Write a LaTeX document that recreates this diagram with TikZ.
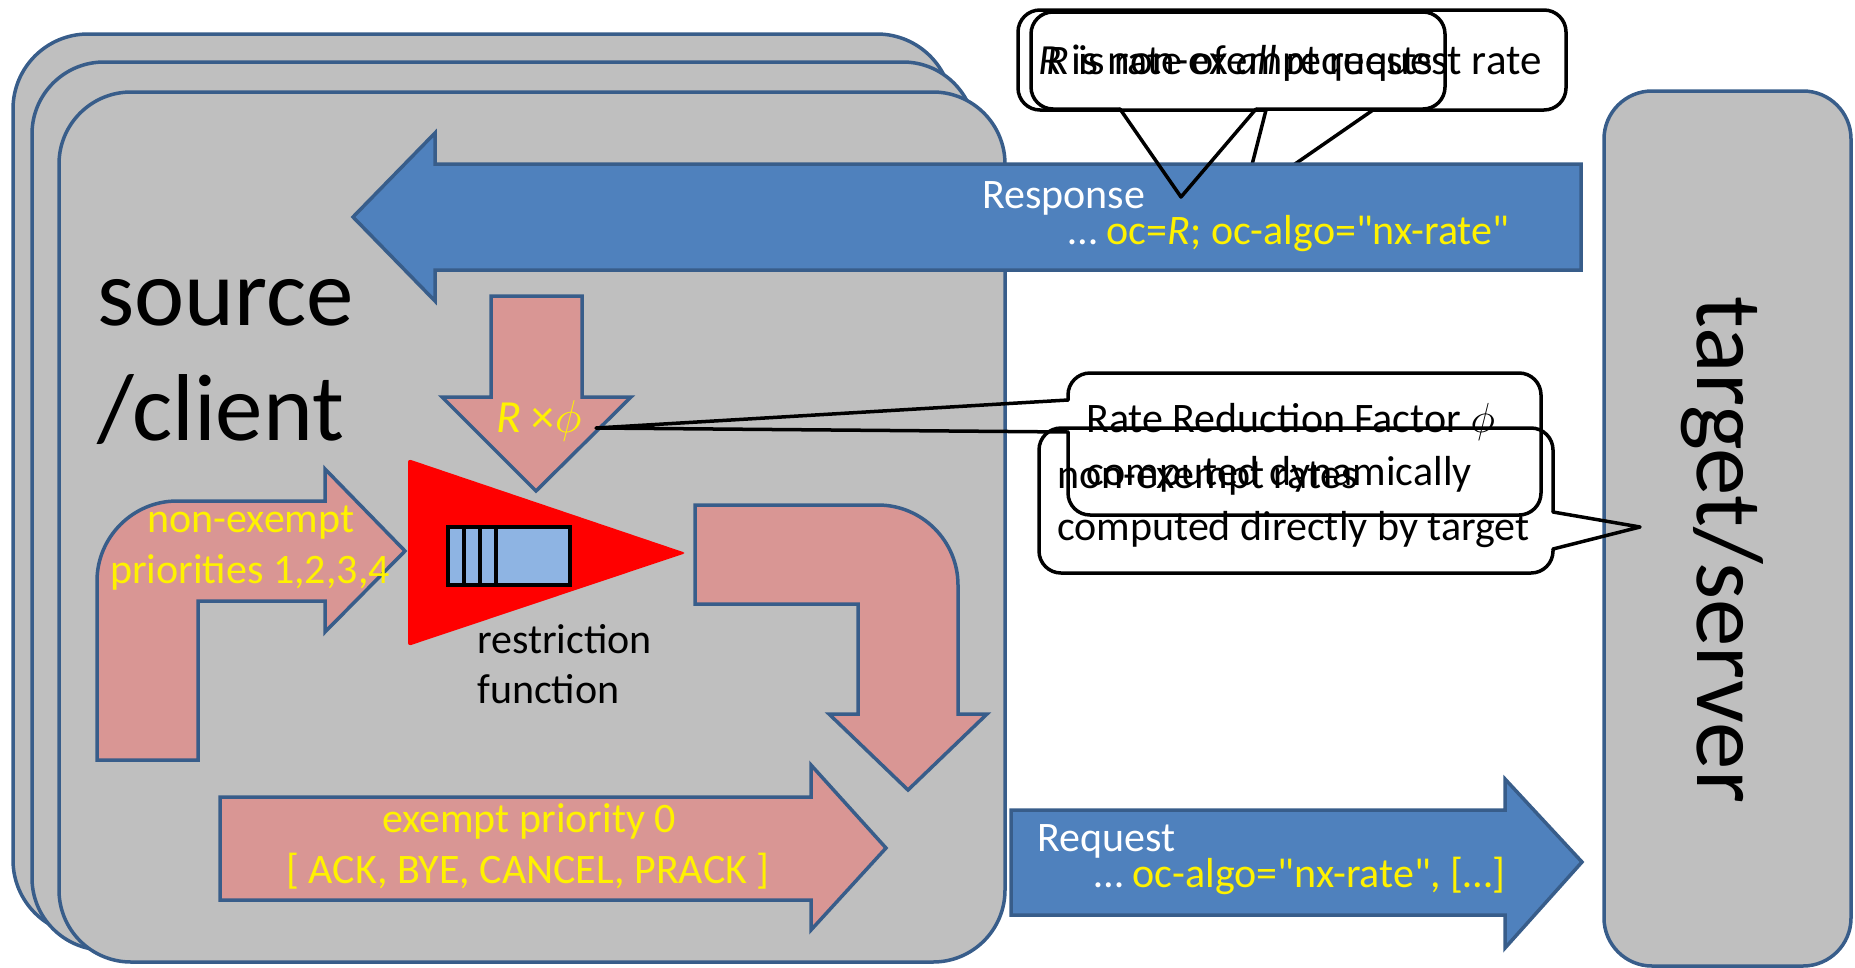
\documentclass[tikz,border=0pt]{standalone}
\usepackage{fix-cm}
\usepackage{fontspec}
\setmainfont{Carlito}
\definecolor{srcgray}{HTML}{BFBFBF}
\definecolor{edgeblue}{HTML}{385D8A}
\definecolor{boxblue}{HTML}{4F81BD}
\definecolor{rosy}{HTML}{D99694}
\definecolor{qblue}{HTML}{8EB4E3}
%% straight double quote, kept out of the tex-text mapping
\newcommand\straightq{\XeTeXglyph\XeTeXcharglyph"22\relax}
\tikzset{
  srcbox/.style={fill=srcgray,draw=edgeblue,line width=3.5pt},
  bluearrow/.style={fill=boxblue,draw=edgeblue,line width=3.5pt},
  pinkarrow/.style={fill=rosy,draw=edgeblue,line width=3.5pt},
  callout/.style={draw=black,line width=3.5pt,line join=round,line cap=round},
  txt/.style={inner sep=0pt,font=\fontsize{42}{50}\selectfont},
  bigtxt/.style={inner sep=0pt,font=\fontsize{95}{114}\selectfont},
}
\begin{document}
\begin{tikzpicture}[x=1pt,y=-1pt]
                \useasboundingbox (0,0) rectangle (1855,967);
                %% source/client stack
                \draw[srcbox,rounded corners=75pt] (13,34) rectangle (952,935);
                \draw[srcbox,rounded corners=72pt] (32,62) rectangle (975,950);
                \draw[srcbox,rounded corners=72pt] (59,92) rectangle (1005,962);
                \node[bigtxt,anchor=base west] (src) at (97,325) {source};
                \node[bigtxt,anchor=base west] (cli) at (97,440) {/client};
                %% top callout, behind the response
                \coordinate (tipa) at (1243,200);
                \draw[callout,rounded corners=22pt] (1373,110) -- (1566,110) -- (1566,10) -- (1018,10) -- (1018,110) -- (1266,110);
                \draw[callout] (1266,110) -- (tipa) -- (1373,110);
                \node[txt,anchor=base west,font=\fontsize{43}{50}\selectfont] (rnx) at (1038,74) {\textit{R} is non-exempt request rate};
                %% response
                \draw[bluearrow] (1581,164) -- (435,164) -- (435,133) -- (353,217) -- (435,301) -- (435,270) -- (1581,270) -- cycle;
                \node[txt,anchor=base west,text=white] (resp) at (982,208) {Response};
                \node[txt,anchor=base west,text=white] (respoc) at (1068,244) {…\ \textcolor{yellow}{oc=\textit{R}; oc-algo=\straightq nx-rate\straightq}};
                %% top callout, over the response
                \coordinate (tipb) at (1181,197);
                \draw[callout,rounded corners=22pt] (1256,109) -- (1445,109) -- (1445,12) -- (1031,12) -- (1031,109) -- (1120,109);
                \draw[callout] (1120,109) -- (tipb) -- (1256,109);
                \node[txt,anchor=base west] (rall) at (1046,74) {\textit{R} is rate of \textit{all} requests};
                %% reduction factor arrow
                \draw[pinkarrow] (491,296) -- (582,296) -- (582,397) -- (631,397) -- (536,491) -- (442,397) -- (491,397) -- cycle;
                \node[txt,anchor=base,text=yellow,font=\fontsize{46}{50}\selectfont] (rphi) at (539,432) {\textit{R} ×$\phi$};
                %% restriction function
                \fill[red,rounded corners=3pt] (408,459) -- (686,553) -- (408,646) -- cycle;
                \draw[fill=qblue,line width=4.5pt] (448,527) rectangle (570,585);
                \draw[line width=4.5pt] (464,527) -- (464,585) (480,527) -- (480,585) (496,527) -- (496,585);
                \node[txt,anchor=base west] (restr) at (477,653) {restriction};
                \node[txt,anchor=base west] (func) at (477,703) {function};
                %% non-exempt in
                \draw[pinkarrow] (97,760) -- (97,581) .. controls (97,537) and (133,501) .. (177,501) -- (325,501) -- (325,469) -- (405,551) -- (325,632) -- (325,601) -- (198,601) -- (198,760) -- cycle;
                \node[txt,anchor=base,text=yellow] (nonex) at (251,532) {non-exempt};
                \node[txt,anchor=base,text=yellow] (prio) at (250,583) {priorities 1,2,3,4};
                %% non-exempt out
                \draw[pinkarrow] (695,505) -- (878,505) .. controls (922,505) and (958,541) .. (958,585) -- (958,714) -- (987,714) -- (908,790) -- (829,714) -- (858,714) -- (858,604) -- (695,604) -- cycle;
                %% exempt
                \draw[pinkarrow] (220,797) -- (811,797) -- (811,765) -- (886,848) -- (811,930) -- (811,900) -- (220,900) -- cycle;
                \node[txt,anchor=base,text=yellow] (exm) at (529,832) {exempt priority 0};
                \node[txt,anchor=base,text=yellow] (meth) at (528,883) {[ ACK, BYE, CANCEL, PRACK ]};
                %% request
                \draw[bluearrow] (1011,810) -- (1505,810) -- (1505,779) -- (1582,862) -- (1505,948) -- (1505,915) -- (1011,915) -- cycle;
                \node[txt,anchor=base west,text=white] (req) at (1037,851) {Request};
                \node[txt,anchor=base west,text=white] (reqoc) at (1094,887) {…\ \textcolor{yellow}{oc-algo=\straightq nx-rate\straightq, […]}};
                %% target/server
                \draw[srcbox,rounded corners=48pt] (1604,91) rectangle (1851,966);
                \node[bigtxt,anchor=base,rotate=-90] (tgt) at (1697,550) {target/server};
                %% non-exempt rates callout
                \coordinate (tipc) at (1640,527);
                \draw[callout,rounded corners=22pt] (1553,549) -- (1553,573) -- (1039,573) -- (1039,428) -- (1553,428) -- (1553,512);
                \draw[callout] (1553,512) -- (tipc) -- (1553,549);
                \node[txt,anchor=base west] (nxr) at (1057,488) {non-exempt rates};
                \node[txt,anchor=base west] (nxrb) at (1057,540) {computed directly by target};
                %% reduction factor callout
                \coordinate (tipd) at (596,428);
                \draw[callout,rounded corners=22pt] (1068,432) -- (1068,515) -- (1541,515) -- (1541,373) -- (1068,373) -- (1068,400);
                \draw[callout] (1068,400) -- (tipd) -- (1068,432);
                \node[txt,anchor=base west] (rrf) at (1086,432) {Rate Reduction Factor $\phi$};
                \node[txt,anchor=base west] (rrfb) at (1086,485) {computed dynamically};
            \end{tikzpicture}
\end{document}
